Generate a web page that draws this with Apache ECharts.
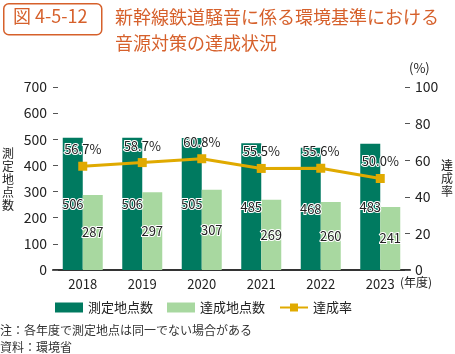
<!DOCTYPE html>
<html>
<head>
<meta charset="utf-8">
<script src="https://cdn.jsdelivr.net/npm/echarts@6/dist/echarts.min.js"></script>
<style>
  html, body { margin: 0; padding: 0; background: #fff; }
  #chart { width: 455px; height: 354px; }
</style>
</head>
<body>
<div id="chart"></div>
<script>
const years = ["2018", "2019", "2020", "2021", "2022", "2023"]
const measured = [506, 506, 505, 485, 468, 483]
const achieved = [287, 297, 307, 269, 260, 241]
const rate = [56.7, 58.7, 60.8, 55.5, 55.6, 50.0]

const font = '"Noto Sans CJK JP", "Noto Sans", sans-serif'
const orange = '#d6602b'
const labelStyle = {
    color: '#222',
    fontSize: 13,
    fontFamily: font,
    textBorderColor: '#fff',
    textBorderWidth: 2
}

const chart = echarts.init(document.getElementById('chart'))
chart.setOption({
    animation: false,
    textStyle: { fontFamily: font },
    grid: { left: 53, right: 45, top: 87, bottom: 84 },
    legend: {
        left: 50,
        top: 296,
        itemWidth: 28,
        itemHeight: 10,
        itemGap: 14,
        textStyle: { fontSize: 13, color: '#222', fontFamily: font },
        data: [
            { name: '測定地点数', icon: 'rect' },
            { name: '達成地点数', icon: 'rect' },
            { name: '達成率' }
        ]
    },
    xAxis: {
        type: 'category',
        data: years,
        axisLine: { lineStyle: { color: '#333', width: 2 } },
        axisTick: { show: false },
        axisLabel: { color: '#222', fontSize: 13, margin: 8 }
    },
    yAxis: [
        {
            type: 'value', min: 0, max: 700, interval: 100,
            splitLine: { show: false },
            axisLine: { show: false },
            axisTick: { show: true, inside: true, length: 5, lineStyle: { color: '#555' } },
            axisLabel: { color: '#222', fontSize: 14, margin: 6 }
        },
        {
            type: 'value', min: 0, max: 100, interval: 20,
            splitLine: { show: false },
            axisLine: { show: false },
            axisTick: { show: true, inside: true, length: 5, lineStyle: { color: '#555' } },
            axisLabel: { color: '#222', fontSize: 14, margin: 5 }
        }
    ],
    series: [
        {
            name: '測定地点数',
            type: 'bar',
            data: measured,
            barWidth: 20,
            barGap: '0%',
            itemStyle: { color: '#007a60' },
            label: { show: true, position: 'inside', ...labelStyle }
        },
        {
            name: '達成地点数',
            type: 'bar',
            data: achieved,
            barWidth: 20,
            itemStyle: { color: '#a8d8a0' },
            label: { show: true, position: 'inside', ...labelStyle }
        },
        {
            name: '達成率',
            type: 'line',
            yAxisIndex: 1,
            data: rate,
            symbol: 'rect',
            symbolSize: 9,
            lineStyle: { color: '#e0aa00', width: 3 },
            itemStyle: { color: '#e0aa00' },
            label: {
                show: true, position: 'top', distance: 6,
                formatter: p => p.value.toFixed(1) + '%',
                ...labelStyle
            },
            z: 5
        }
    ],
    graphic: [
        {
            type: 'rect', left: 3, top: 3,
            shape: { width: 98, height: 31, r: 5 },
            style: { fill: '#fff', stroke: orange, lineWidth: 1.5 }
        },
        {
            type: 'text', left: 13, top: 7,
            style: { text: '図 4-5-12', fill: orange, fontSize: 18, fontFamily: font }
        },
        {
            type: 'text', left: 115, top: 4,
            style: {
                text: '新幹線鉄道騒音に係る環境基準における\n音源対策の達成状況',
                fill: orange, fontSize: 18, lineHeight: 26, fontFamily: font
            }
        },
        {
            type: 'text', left: 2, top: 147,
            style: { text: '測\n定\n地\n点\n数', fill: '#222', fontSize: 12, lineHeight: 13, fontFamily: font }
        },
        {
            type: 'text', left: 441, top: 159,
            style: { text: '達\n成\n率', fill: '#222', fontSize: 12, lineHeight: 13, fontFamily: font }
        },
        {
            type: 'text', left: 409, top: 62,
            style: { text: '(%)', fill: '#222', fontSize: 13, fontFamily: font }
        },
        {
            type: 'text', left: 400, top: 276,
            style: { text: '(年度)', fill: '#222', fontSize: 12, fontFamily: font }
        },
        {
            type: 'text', left: 0, top: 324,
            style: { text: '注：各年度で測定地点は同一でない場合がある', fill: '#333', fontSize: 12, fontFamily: font }
        },
        {
            type: 'text', left: 0, top: 341,
            style: { text: '資料：環境省', fill: '#333', fontSize: 12, fontFamily: font }
        }
    ]
})
</script>
</body>
</html>
